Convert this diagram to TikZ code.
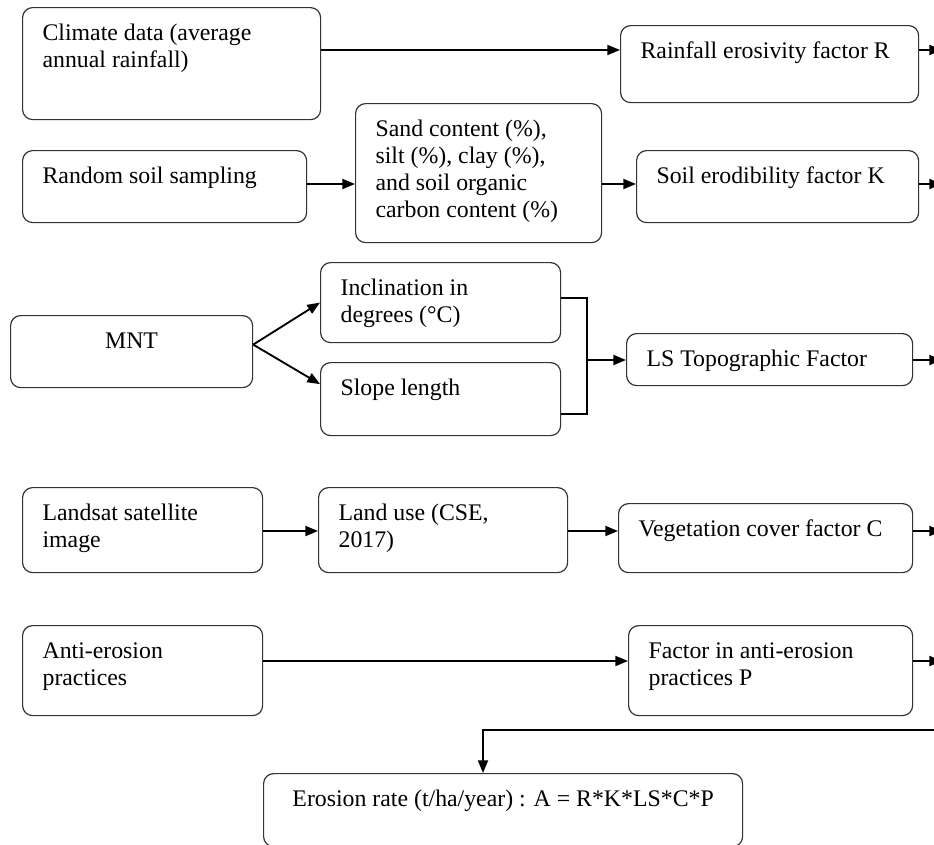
\documentclass[tikz,border=0pt]{standalone}
\usepackage{fontspec}
\setmainfont{Liberation Serif}
\usetikzlibrary{arrows.meta, calc}

% box text: width and height of the box in px, then the text
\newcommand{\boxtext}[3]{\parbox[t][\dimexpr 0.75pt*#2-21.2pt\relax][t]{\dimexpr 0.75pt*#1-30pt\relax}{\raggedright\strut #3}}

\tikzset{
  box/.style={draw=black!80, line width=0.9pt, rounded corners=7.5pt, anchor=north west,
    inner xsep=15pt, inner ysep=10.6pt, font=\fontsize{17.85pt}{20.25pt}\selectfont},
  arr/.style={-{Triangle[length=9.5pt, width=7.5pt]}, line width=1.4pt},
  link/.style={line width=1pt}
}

\begin{document}
\begin{tikzpicture}[x=0.75pt, y=-0.75pt]
  \useasboundingbox (0,0) rectangle (934,844);

  % Row R: rainfall
  \node[box] (clim) at (22,7) {\boxtext{298}{112}{Climate data (average\\annual rainfall)}};
  \node[box] (rain) at (620,25) {\boxtext{298}{77}{Rainfall erosivity factor R}};

  % Row K: soil
  \node[box] (samp) at (22,150) {\boxtext{284}{72}{Random soil sampling}};
  \node[box] (sand) at (355,103) {\boxtext{246}{139}{Sand content (\%),\\silt (\%), clay (\%),\\and soil organic\\carbon content (\%)}};
  \node[box] (kfac) at (636,150) {\boxtext{282}{72}{Soil erodibility factor K}};

  % Row LS: relief
  \node[box] (mnt) at (10,315) {\boxtext{242}{72}{\centering MNT}};
  \node[box] (incl) at (320,262) {\boxtext{240}{80}{Inclination in\\degrees (°C)}};
  \node[box] (slope) at (320,362) {\boxtext{240}{73}{Slope length}};
  \node[box] (ls) at (626,333) {\boxtext{286}{52}{LS Topographic Factor}};

  % Row C: vegetation
  \node[box] (lsat) at (22,487) {\boxtext{240}{85}{Landsat satellite\\image}};
  \node[box] (luse) at (318,487) {\boxtext{249}{85}{Land use (CSE,\\2017)}};
  \node[box] (veg) at (618,503) {\boxtext{294}{69}{Vegetation cover factor C}};

  % Row P: practices
  \node[box] (anti) at (22,625) {\boxtext{240}{90}{Anti-erosion\\practices}};
  \node[box] (pfac) at (628,625) {\boxtext{284}{90}{Factor in anti-erosion\\practices P}};

  % Result
  \node[box] (rate) at (263,773) {\boxtext{479}{73}{\centering Erosion rate (t/ha/year) : A = R*K*LS*C*P}};

  % Free ends at the right edge
  \coordinate (rout) at (942,50);
  \coordinate (kout) at (942,184);
  \coordinate (lsout) at (942,360);
  \coordinate (cout) at (942,531);
  \coordinate (pout) at (942,661);
  \coordinate (rin) at (940,730);
  \coordinate (rdown) at (483,730);
  \coordinate (brk) at (587,298);

  % Connectors
  \draw[arr] (clim.east |- rout) -- (rain.west |- rout);
  \draw[arr] (rain.east |- rout) -- (rout);
  \draw[arr] (samp.east |- kout) -- (sand.west |- kout);
  \draw[arr] (sand.east |- kout) -- (kfac.west |- kout);
  \draw[arr] (kfac.east |- kout) -- (kout);
  \draw[arr] ($(mnt.east)+(0,-7)$) -- (incl.west);
  \draw[arr] ($(mnt.east)+(0,-7)$) -- ($(slope.west)+(0,-15)$);
  \draw[link] (incl.east |- brk) -- (brk) |- ($(slope.east)+(0,15)$);
  \draw[arr] (brk |- lsout) -- (ls.west |- lsout);
  \draw[arr] (ls.east |- lsout) -- (lsout);
  \draw[arr] (lsat.east |- cout) -- (luse.west |- cout);
  \draw[arr] (luse.east |- cout) -- (veg.west |- cout);
  \draw[arr] (veg.east |- cout) -- (cout);
  \draw[arr] (anti.east |- pout) -- (pfac.west |- pout);
  \draw[arr] (pfac.east |- pout) -- (pout);
  \draw[arr] (rin) -- (rdown) -- (rdown |- rate.north);
\end{tikzpicture}
\end{document}
